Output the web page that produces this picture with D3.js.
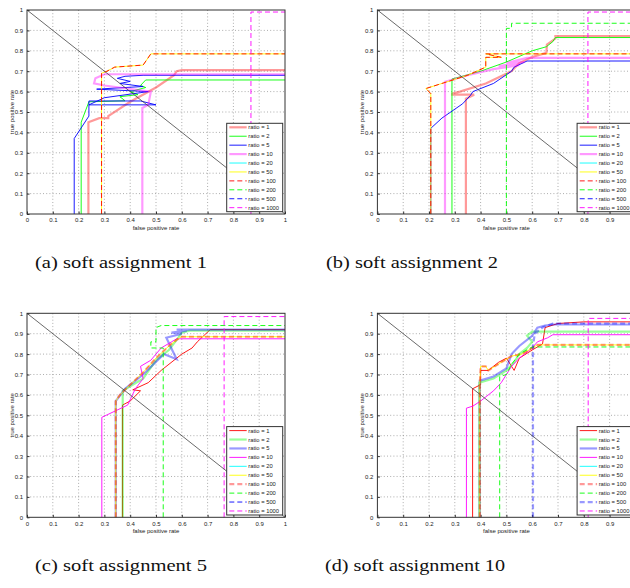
<!DOCTYPE html>
<html>
<head>
<meta charset="utf-8">
<script src="https://cdn.jsdelivr.net/npm/d3@7"></script>
<style>
  body { margin: 0; background: #fff; }
</style>
</head>
<body>
<div id="fig"></div>
<script>
// ratios shown in every legend
var ratios = ["1", "2", "5", "10", "20", "50", "100", "200", "500", "1000"];
var seriesColors = ["#ff0000", "#00ff00", "#0000ff", "#ff00ff", "#00ffff", "#ffff00",
                    "#ff0000", "#00ff00", "#0000ff", "#ff00ff"];
var tickValues = [0, 0.1, 0.2, 0.3, 0.4, 0.5, 0.6, 0.7, 0.8, 0.9, 1];
var tickLabels = ["0", "0.1", "0.2", "0.3", "0.4", "0.5", "0.6", "0.7", "0.8", "0.9", "1"];
var captions = ["(a) soft assignment 1", "(b) soft assignment 2",
                "(c) soft assignment 5", "(d) soft assignment 10"];

// panel (a): [fpr, tpr] points
var a1 = [[0.238,0],[0.238,0.45],[0.28,0.47],[0.315,0.47],[0.315,0.48],[0.40,0.55],[0.50,0.62],[0.57,0.68],[0.58,0.70],[0.60,0.705],[1,0.705]];
var a2 = [[0.21,0],[0.21,0.45],[0.24,0.55],[0.38,0.555],[0.36,0.575],[0.43,0.585],[0.40,0.60],[0.46,0.62],[0.44,0.63],[0.46,0.657],[1,0.657]];
var a5 = [[0.183,0],[0.183,0.37],[0.24,0.48],[0.24,0.554],[0.44,0.554],[0.50,0.535],[0.24,0.535],[0.30,0.57],[0.47,0.60],[0.27,0.612],[0.45,0.625],[0.36,0.64],[0.40,0.65],[0.35,0.665],[0.38,0.675],[0.45,0.68],[1,0.68]];
var a10 = [[0.447,0],[0.447,0.52],[0.47,0.535],[0.48,0.60],[0.30,0.63],[0.26,0.64],[0.265,0.665],[0.30,0.685],[1,0.685]];
var aMid = [[0.289,0],[0.289,0.69],[0.31,0.70],[0.34,0.72],[0.45,0.73],[0.48,0.785],[1,0.785]];
var aHigh = [[0.868,0],[0.868,0.99],[1,0.99]];

// panel (b)
var b1 = [[0.343,0],[0.343,0.565],[0.375,0.585],[0.29,0.585],[0.29,0.59],[0.32,0.60],[0.42,0.64],[0.52,0.70],[0.55,0.74],[0.60,0.77],[0.655,0.79],[0.657,0.83],[0.69,0.86],[0.69,0.872],[1,0.872]];
var b2 = [[0.289,0],[0.289,0.662],[0.30,0.665],[0.40,0.70],[0.50,0.745],[0.60,0.80],[0.655,0.82],[0.68,0.845],[0.69,0.865],[1,0.865]];
var b5 = [[0.207,0],[0.207,0.42],[0.25,0.47],[0.33,0.54],[0.36,0.58],[0.37,0.60],[0.45,0.64],[0.52,0.70],[0.53,0.72],[0.58,0.75],[1,0.75]];
var b10 = [[0.262,0],[0.262,0.648],[0.35,0.68],[0.45,0.71],[0.55,0.73],[0.47,0.725],[0.57,0.745],[0.50,0.74],[0.58,0.765],[1,0.765]];
var bMid = [[0.207,0],[0.207,0.59],[0.188,0.615],[0.25,0.64],[0.35,0.68],[0.42,0.72],[0.42,0.768],[0.48,0.768],[0.42,0.785],[1,0.785]];
var b200 = [[0.50,0],[0.50,0.91],[0.52,0.91],[0.52,0.935],[1,0.935]];
var bHigh = [[0.816,0],[0.816,0.99],[1,0.99]];

// panel (c)
var c1 = [[0.37,0],[0.37,0.55],[0.40,0.57],[0.44,0.62],[0.41,0.625],[0.47,0.66],[0.52,0.72],[0.58,0.78],[0.60,0.80],[0.64,0.83],[0.66,0.86],[0.71,0.92],[1,0.92]];
var c2 = [[0.371,0],[0.371,0.62],[0.39,0.635],[0.45,0.68],[0.50,0.77],[0.55,0.82],[0.58,0.87],[0.60,0.905],[0.63,0.915],[1,0.915]];
var c5 = [[0.344,0],[0.344,0.57],[0.38,0.63],[0.45,0.70],[0.53,0.80],[0.58,0.775],[0.54,0.88],[0.60,0.90],[0.56,0.905],[0.62,0.915],[0.58,0.92],[1,0.92]];
var c10 = [[0.29,0],[0.29,0.49],[0.39,0.55],[0.42,0.63],[0.45,0.68],[0.44,0.74],[0.48,0.77],[0.52,0.83],[0.56,0.86],[0.58,0.875],[1,0.875]];
var cMid = [[0.344,0],[0.344,0.57],[0.36,0.60],[0.40,0.65],[0.45,0.71],[0.50,0.78],[0.55,0.84],[0.58,0.87],[0.60,0.885],[1,0.885]];
var c200 = [[0.528,0],[0.528,0.83],[0.48,0.83],[0.48,0.86],[0.50,0.86],[0.50,0.93],[0.52,0.94],[1,0.94]];
var cHigh = [[0.764,0],[0.764,0.984],[1,0.984]];

// panel (d)
var d1 = [[0.369,0],[0.369,0.63],[0.40,0.65],[0.40,0.72],[0.43,0.72],[0.47,0.76],[0.50,0.78],[0.53,0.72],[0.55,0.78],[0.60,0.82],[0.64,0.85],[0.65,0.93],[0.70,0.95],[0.80,0.958],[1,0.958]];
var d2 = [[0.395,0],[0.395,0.66],[0.45,0.68],[0.50,0.72],[0.53,0.76],[0.55,0.80],[0.58,0.83],[0.60,0.86],[0.58,0.89],[0.60,0.91],[1,0.91]];
var d5 = [[0.397,0],[0.397,0.67],[0.45,0.69],[0.50,0.73],[0.52,0.80],[0.55,0.84],[0.60,0.89],[0.62,0.93],[0.65,0.94],[0.68,0.945],[1,0.945]];
var d10 = [[0.345,0],[0.345,0.535],[0.37,0.545],[0.40,0.57],[0.45,0.62],[0.48,0.66],[0.52,0.74],[0.55,0.78],[0.60,0.83],[0.62,0.86],[0.66,0.88],[0.68,0.895],[1,0.895]];
var dMid = [[0.397,0],[0.397,0.65],[0.40,0.74],[0.42,0.74],[0.43,0.72],[0.48,0.76],[0.52,0.79],[0.56,0.80],[0.60,0.83],[0.62,0.845],[1,0.845]];
var d200 = [[0.474,0],[0.474,0.69],[0.50,0.70],[0.52,0.75],[0.55,0.80],[0.60,0.835],[1,0.835]];
var d500 = [[0.603,0],[0.603,0.84],[0.61,0.90],[0.64,0.93],[0.68,0.95],[1,0.95]];
var dHigh = [[0.817,0],[0.817,0.975],[1,0.975]];

var panelA = [a1, a2, a5, a10, aMid, aMid, aMid, aHigh, aHigh, aHigh];
var panelB = [b1, b2, b5, b10, bMid, bMid, bMid, b200, bHigh, bHigh];
var panelC = [c1, c2, c5, c10, cMid, cMid, cMid, c200, cHigh, cHigh];
var panelD = [d1, d2, d5, d10, dMid, dMid, dMid, d200, d500, dHigh];

var svg = d3.select("#fig").append("svg")
  .attr("width", 630)
  .attr("height", 588);

var sansFont = "'Liberation Sans', Arial, sans-serif";
var plotW = 258, plotH = 204;
var panels = [
  { data: panelA, left: 27,    top: 10,    thick: [0, 3],       capX: 121 },
  { data: panelB, left: 377.4, top: 10,    thick: [0, 3],       capX: 412 },
  { data: panelC, left: 27,    top: 313.3, thick: [1, 2, 6],    capX: 121 },
  { data: panelD, left: 377.4, top: 313.3, thick: [1, 2, 6, 8], capX: 415 }
];

var x = d3.scaleLinear().domain([0, 1]).range([0, plotW]);
var y = d3.scaleLinear().domain([0, 1]).range([plotH, 0]);
var line = d3.line().x(d => x(d[0])).y(d => y(d[1]));

function styleSeries(sel, i, thick) {
  var isThick = thick.indexOf(i) >= 0;
  sel.attr("fill", "none")
    .attr("stroke", seriesColors[i])
    .attr("stroke-width", isThick ? 2.2 : 0.9)
    .attr("stroke-opacity", isThick ? 0.4 : 1)
    .attr("stroke-dasharray", i >= 6 ? "5,3" : null);
}

// a series is fully covered when a later one follows the same points
// with a solid line, or both are dashed
function isCovered(list, i) {
  for (var j = i + 1; j < list.length; j++) {
    if (list[j] === list[i] && (j < 6 || i >= 6)) return true;
  }
  return false;
}

panels.forEach(function (p, pi) {
  var g = svg.append("g").attr("transform", `translate(${p.left}, ${p.top})`);

  g.append("rect")
    .attr("width", plotW).attr("height", plotH)
    .attr("fill", "#fff");

  // dotted grid
  g.append("g").selectAll("line")
    .data(tickValues.slice(1, -1))
    .enter().append("line")
    .attr("x1", d => x(d)).attr("x2", d => x(d))
    .attr("y1", 0).attr("y2", plotH)
    .attr("stroke", "#8a8a8a").attr("stroke-width", 0.7)
    .attr("stroke-dasharray", "1,2.2");
  g.append("g").selectAll("line")
    .data(tickValues.slice(1, -1))
    .enter().append("line")
    .attr("y1", d => y(d)).attr("y2", d => y(d))
    .attr("x1", 0).attr("x2", plotW)
    .attr("stroke", "#8a8a8a").attr("stroke-width", 0.7)
    .attr("stroke-dasharray", "1,2.2");

  // axes with inward ticks
  var bottomAxis = d3.axisBottom(x).tickValues(tickValues)
    .tickFormat((d, i) => tickLabels[i]).tickSizeInner(-2.5).tickSizeOuter(0).tickPadding(4);
  var leftAxis = d3.axisLeft(y).tickValues(tickValues)
    .tickFormat((d, i) => tickLabels[i]).tickSizeInner(-2.5).tickSizeOuter(0).tickPadding(4);

  var xAxis = g.append("g")
    .attr("transform", `translate(0, ${plotH})`)
    .call(bottomAxis);
  var yAxis = g.append("g").call(leftAxis);
  [xAxis, yAxis].forEach(function (ax) {
    ax.select(".domain").remove();
    ax.selectAll("line").attr("stroke", "#333");
    ax.selectAll("text").attr("font-size", "6px").attr("fill", "#222")
      .attr("font-family", sansFont);
  });

  // curves
  p.data.forEach(function (pts, i) {
    if (isCovered(p.data, i)) return;
    g.append("path")
      .datum(pts)
      .attr("d", line)
      .call(styleSeries, i, p.thick);
  });

  // chance diagonal
  g.append("line")
    .attr("x1", x(0)).attr("y1", y(1))
    .attr("x2", x(1)).attr("y2", y(0))
    .attr("stroke", "#444").attr("stroke-width", 0.8);

  // box
  g.append("rect")
    .attr("width", plotW).attr("height", plotH)
    .attr("fill", "none").attr("stroke", "#333").attr("stroke-width", 1);

  // axis labels
  g.append("text")
    .attr("x", plotW / 2).attr("y", plotH + 16)
    .attr("text-anchor", "middle")
    .attr("font-family", sansFont)
    .attr("font-size", "6px").attr("fill", "#222")
    .text("false positive rate");
  g.append("text")
    .attr("transform", `translate(-13, ${plotH / 2}) rotate(-90)`)
    .attr("text-anchor", "middle")
    .attr("font-family", sansFont)
    .attr("font-size", "6px").attr("fill", "#222")
    .text("true positive rate");

  // legend
  var lg = g.append("g").attr("transform", `translate(${plotW - 58.3}, ${plotH - 90.7})`);
  lg.append("rect")
    .attr("width", 56).attr("height", 88.4)
    .attr("fill", "#fff").attr("stroke", "#333").attr("stroke-width", 1);
  ratios.forEach(function (r, i) {
    var ly = 4 + i * 8.93;
    lg.append("line")
      .attr("x1", 2.6).attr("x2", 20)
      .attr("y1", ly).attr("y2", ly)
      .call(styleSeries, i, p.thick);
    lg.append("text")
      .attr("x", 21.6).attr("y", ly + 2)
      .attr("font-family", sansFont)
      .attr("font-size", "5.8px").attr("fill", "#222")
      .text("ratio = " + r);
  });

  // caption
  svg.append("text")
    .attr("x", p.capX).attr("y", p.top + 258)
    .attr("text-anchor", "middle")
    .attr("font-family", "'Liberation Serif', 'DejaVu Serif', serif")
    .attr("font-size", "17px").attr("fill", "#111")
    .attr("textLength", pi === 3 ? 180 : 172)
    .attr("lengthAdjust", "spacingAndGlyphs")
    .text(captions[pi]);
});
</script>
</body>
</html>
